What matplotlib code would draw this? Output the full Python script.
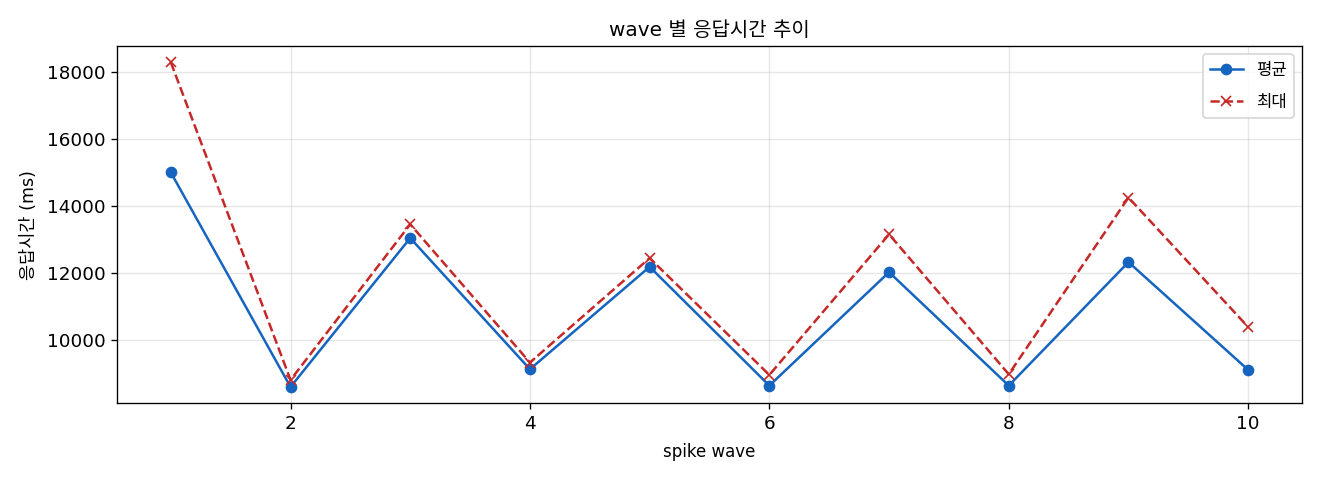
import matplotlib
matplotlib.use("Agg")
import matplotlib.pyplot as plt

plt.rcParams['font.family'] = ['DejaVu Sans', 'Noto Sans CJK KR']
plt.rcParams['axes.unicode_minus'] = False

waves = [1, 2, 3, 4, 5, 6, 7, 8, 9, 10]
avg_ms = [15010, 8600, 13050, 9130, 12190, 8640, 12030, 8640, 12330, 9110]
max_ms = [18300, 8810, 13460, 9330, 12450, 8960, 13160, 8980, 14260, 10390]

fig, ax = plt.subplots(figsize=(11, 4), dpi=120)
ax.plot(waves, avg_ms, marker='o', color='#1565C0', label='평균')
ax.plot(waves, max_ms, marker='x', linestyle='--', color='#C62828', label='최대')
ax.set_title('wave 별 응답시간 추이', fontsize=12)
ax.set_xlabel('spike wave', fontsize=10, labelpad=6)
ax.set_ylabel('응답시간 (ms)', fontsize=10.5, labelpad=5)
ax.tick_params(labelsize=11)
ax.grid(True, alpha=0.3)
ax.legend(loc='upper right', fontsize=10, labelspacing=0.85)
fig.subplots_adjust(left=0.0886, right=0.9864, top=0.904, bottom=0.160)
fig.savefig('out.png')
